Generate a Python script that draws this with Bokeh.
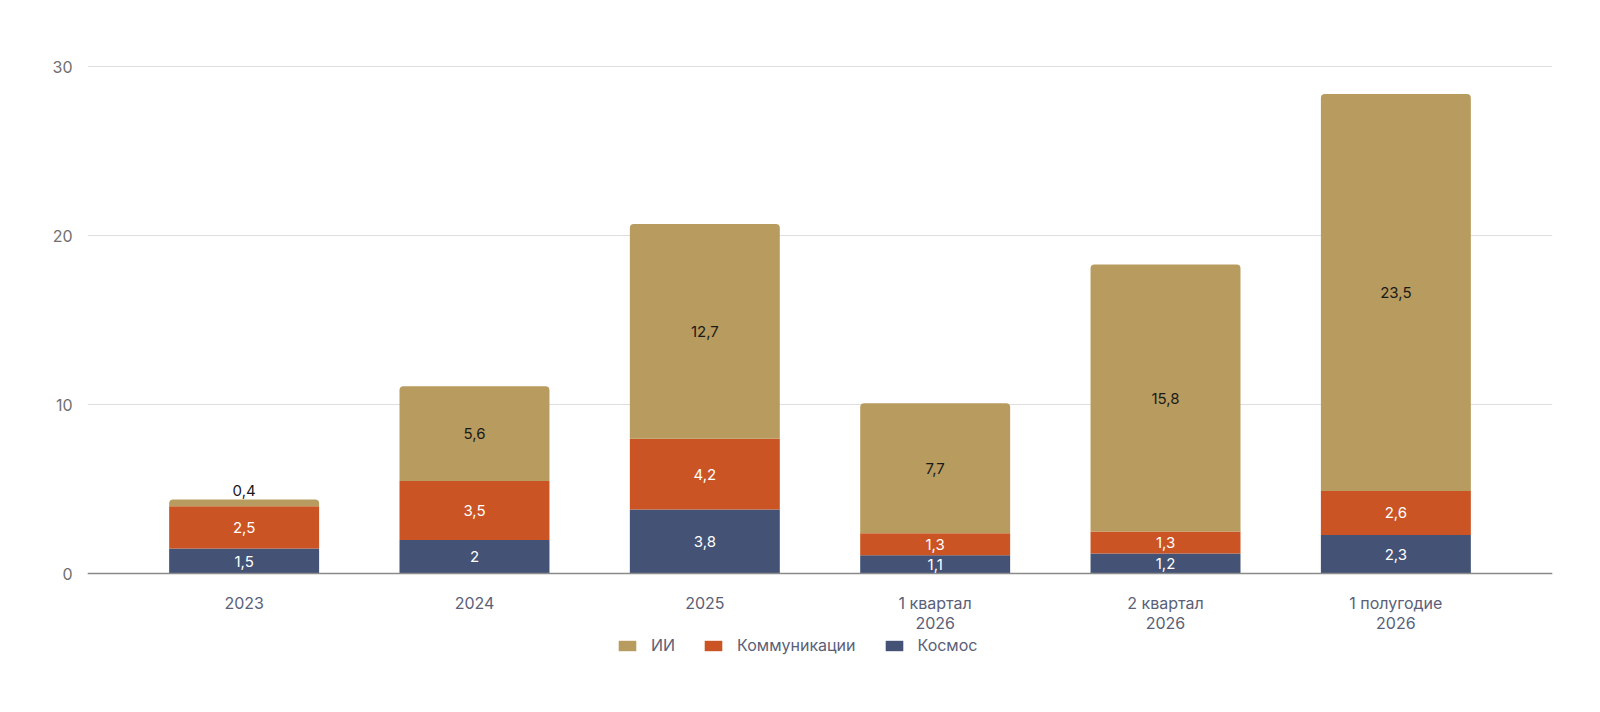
from bokeh.plotting import figure
from bokeh.models import (ColumnDataSource, LabelSet, Legend, LegendItem,
                          FactorRange, Range1d, FixedTicker)
from bokeh.core.properties import value
from bokeh.embed import file_html
from bokeh.resources import INLINE

# ---- data ----
categories = ["2023", "2024", "2025", "1 квартал\n2026", "2 квартал\n2026", "1 полугодие\n2026"]
kosmos = [1.5, 2, 3.8, 1.1, 1.2, 2.3]
kommunikacii = [2.5, 3.5, 4.2, 1.3, 1.3, 2.6]
ii = [0.4, 5.6, 12.7, 7.7, 15.8, 23.5]
series_names = ["Космос", "Коммуникации", "ИИ"]
series_colors = ["#435275", "#CB5424", "#B89B5E"]
label_colors = ["#ffffff", "#ffffff", "#1a1a1a"]
y_ticks = [0, 10, 20, 30]

FONT = "Inter"


def fmt(v):
    return f"{v:g}".replace(".", ",")


p = figure(
    x_range=FactorRange(*categories, range_padding=0.18, range_padding_units="absolute"),
    y_range=Range1d(-5.78, 31.5),
    width=1600, height=712,
    min_border_left=87, min_border_right=48, min_border_top=41, min_border_bottom=41,
    output_backend="svg", toolbar_location=None,
)
p.outline_line_color = None
p.background_fill_color = "white"
p.border_fill_color = "white"

series = [kosmos, kommunikacii, ii]
bottoms = [0.0] * len(categories)
renderers = []
for idx, (vals, name, col, lcol) in enumerate(zip(series, series_names, series_colors, label_colors)):
    tops = [b + v for b, v in zip(bottoms, vals)]
    mids = [(b + t) / 2 for b, t in zip(bottoms, tops)]
    big = [v >= 1 for v in vals]
    src = ColumnDataSource(dict(
        x=categories, bottom=bottoms, top=tops, mid=mids,
        text=[fmt(v) if ok else "" for v, ok in zip(vals, big)],
        out_text=[fmt(v) if not ok else "" for v, ok in zip(vals, big)],
    ))
    kw = {}
    if idx == len(series) - 1:
        kw["border_radius"] = (4, 4, 0, 0)
    r = p.vbar(x="x", bottom="bottom", top="top", width=0.651, source=src,
               fill_color=col, line_color=None, **kw)
    renderers.append(r)
    p.add_layout(LabelSet(x="x", y="mid", text="text", source=src,
                          text_align="center", text_baseline="middle",
                          text_color=lcol, text_font=value(FONT), text_font_size="15px"))
    p.add_layout(LabelSet(x="x", y="top", text="out_text", source=src,
                          text_align="center", text_baseline="bottom", y_offset=3,
                          text_color="#1a1a1a", text_font=value(FONT), text_font_size="15px"))
    bottoms = tops

# axes
p.yaxis.ticker = FixedTicker(ticks=y_ticks)
p.yaxis.axis_line_color = None
p.yaxis.major_tick_line_color = None
p.yaxis.minor_tick_line_color = None
p.yaxis.major_label_text_color = "#707070"
p.yaxis.major_label_text_font = FONT
p.yaxis.major_label_text_font_size = "16px"
p.yaxis.major_label_standoff = 9

p.xaxis.fixed_location = 0
p.xaxis.axis_line_color = "#8a8a8a"
p.xaxis.axis_line_width = 1.5
p.xaxis.major_tick_line_color = None
p.xaxis.minor_tick_line_color = None
p.xaxis.major_label_text_color = "#5a6078"
p.xaxis.major_label_text_font = FONT
p.xaxis.major_label_text_font_size = "16px"
p.xaxis.major_label_text_line_height = 1.0
p.xaxis.major_label_standoff = 13

p.xgrid.grid_line_color = None
p.ygrid.ticker = FixedTicker(ticks=y_ticks)
p.ygrid.grid_line_color = "#dedede"
p.ygrid.grid_line_width = 1

legend = Legend(
    items=[LegendItem(label=series_names[i], renderers=[renderers[i]]) for i in (2, 1, 0)],
    orientation="horizontal", location=(529, 16),
    glyph_width=22, glyph_height=13, label_standoff=13, spacing=27,
    label_text_font=FONT, label_text_font_size="16px", label_text_color="#5a6078",
    border_line_color=None, background_fill_alpha=0, margin=0, padding=4,
)
p.add_layout(legend, "center")

open("out.html", "w").write(file_html(p, INLINE))
